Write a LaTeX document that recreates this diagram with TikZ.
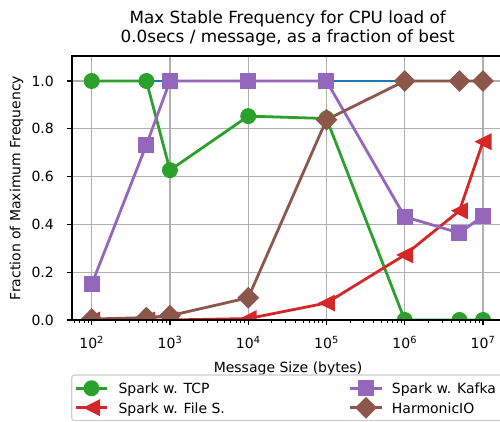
\documentclass[tikz,border=0pt]{standalone}
\usepackage{fontspec}
\setmainfont{DejaVu Sans}
\usetikzlibrary{shapes.geometric}
\definecolor{mblue}{HTML}{1F77B4}
\definecolor{mgreen}{HTML}{2CA02C}
\definecolor{mred}{HTML}{D62728}
\definecolor{mpurple}{HTML}{9467BD}
\definecolor{mbrown}{HTML}{8C564B}
\definecolor{gridgray}{HTML}{B0B0B0}
\definecolor{legedge}{HTML}{CCCCCC}
\begin{document}
\begin{tikzpicture}[
  dline/.style={line width=2.8pt, line join=round, color=#1},
  circmk/.style={circle, fill=#1, minimum size=16pt, inner sep=0pt},
  sqmk/.style={rectangle, fill=#1, minimum size=16pt, inner sep=0pt},
  diamk/.style={diamond, fill=#1, minimum width=22pt, minimum height=22pt, inner sep=0pt},
  trimk/.pic={\fill[mred] (-8.5pt,0pt) -- (8.5pt,8.5pt) -- (8.5pt,-8.5pt) -- cycle;},
  gridln/.style={line width=1.1pt, color=gridgray},
  spine/.style={line width=1.1pt, line cap=rect},
  majtick/.style={line width=1.1pt},
  mintick/.style={line width=0.85pt},
  lbl/.style={font=\fontsize{14}{16}\selectfont, inner sep=0pt},
  ttl/.style={font=\fontsize{16.8}{20}\selectfont, inner sep=0pt},
]
\path[use as bounding box, clip] (0,0) rectangle (500pt,422pt);

% ---------- data scope ----------
\begin{scope}[shift={(-64.82pt,102pt)}, x=78.26pt, y=239pt]
  % grid
  \foreach \d in {2,...,7} \draw[gridln] (\d,0) -- (\d,1.1046);
  \foreach \f in {0.2,0.4,0.6,0.8,1.0} \draw[gridln] (1.7483,\f) -- (7.3,\f);

  % coordinates
  \foreach \n/\x in {1/2,2/2.69897,3/3,4/4,5/5,6/6,7/6.69897,8/7} {
    \coordinate (x\n) at (\x,0);
  }
  % blue
  \coordinate (b1) at (2,1);   \coordinate (b2) at (7,1);
  % green
  \coordinate (g1) at (2,1.0);      \coordinate (g2) at (2.69897,1.0);
  \coordinate (g3) at (3,0.627);    \coordinate (g4) at (4,0.853);
  \coordinate (g5) at (5,0.843);    \coordinate (g6) at (6,0);
  \coordinate (g7) at (6.69897,0);  \coordinate (g8) at (7,0);
  % red
  \coordinate (r1) at (2,0.0);      \coordinate (r2) at (2.69897,0.0);
  \coordinate (r3) at (3,0.0);      \coordinate (r4) at (4,0.006);
  \coordinate (r5) at (5,0.071);    \coordinate (r6) at (6,0.272);
  \coordinate (r7) at (6.69897,0.457); \coordinate (r8) at (7,0.746);
  % purple
  \coordinate (p1) at (2,0.149);    \coordinate (p2) at (2.69897,0.733);
  \coordinate (p3) at (3,1.0);      \coordinate (p4) at (4,1.0);
  \coordinate (p5) at (5,1.0);      \coordinate (p6) at (6,0.432);
  \coordinate (p7) at (6.69897,0.364); \coordinate (p8) at (7,0.435);
  % brown
  \coordinate (h1) at (2,0.004);    \coordinate (h2) at (2.69897,0.01);
  \coordinate (h3) at (3,0.018);    \coordinate (h4) at (4,0.093);
  \coordinate (h5) at (5,0.838);    \coordinate (h6) at (6,1.0);
  \coordinate (h7) at (6.69897,1.0); \coordinate (h8) at (7,1.0);

  \begin{scope}
    \clip (1.7483,0) rectangle (7.3,1.1046);
    \draw[dline=mblue] (b1) -- (b2);

    \draw[dline=mgreen] (g1) -- (g2) -- (g3) -- (g4) -- (g5) -- (g6) -- (g7) -- (g8);
    \foreach \i in {1,...,8} \node[circmk=mgreen] (gm\i) at (g\i) {};

    \draw[dline=mred] (r1) -- (r2) -- (r3) -- (r4) -- (r5) -- (r6) -- (r7) -- (r8);
    \foreach \i in {1,...,8} \pic (rm\i) at (r\i) {trimk};

    \draw[dline=mpurple] (p1) -- (p2) -- (p3) -- (p4) -- (p5) -- (p6) -- (p7) -- (p8);
    \foreach \i in {1,...,8} \node[sqmk=mpurple] (pm\i) at (p\i) {};

    \draw[dline=mbrown] (h1) -- (h2) -- (h3) -- (h4) -- (h5) -- (h6) -- (h7) -- (h8);
    \foreach \i in {1,...,8} \node[diamk=mbrown] (hm\i) at (h\i) {};
  \end{scope}

  % spines
  \coordinate (c00) at (1.7483,0);
  \coordinate (c01) at (1.7483,1.1046);
  \coordinate (c10) at (7.3,0);
  \coordinate (c11) at (7.3,1.1046);
  \draw[spine] (c10) -- (c00) -- (c01) -- (c11);

  % x ticks
  \foreach \d in {2,...,7} \draw[majtick] (\d,0) -- ++(0,-5pt);
  \foreach \d in {2,...,6} \foreach \k in {2,...,9}
    \draw[mintick] ({\d+log10(\k)},0) -- ++(0,-2.8pt);
  \foreach \k in {6,...,9}
    \draw[mintick] ({1+log10(\k)},0) -- ++(0,-2.8pt);
  % y ticks
  \foreach \f in {0,0.2,0.4,0.6,0.8,1.0} \draw[majtick] (1.7483,\f) -- ++(-5pt,0);

  % x tick labels
  \foreach \d in {2,...,7}
    \node[lbl, anchor=base] (xl\d) at ([yshift=-29pt]\d,0) {10\textsuperscript{\d}};
\end{scope}

% y tick labels
\foreach \v/\y in {0.0/102,0.2/149.8,0.4/197.6,0.6/245.4,0.8/293.2,1.0/341}
  \node[lbl, anchor=east] (yl\v) at (54pt,\y pt) {\v};

% axis labels and title
\node[lbl, anchor=base] (xlab) at (288pt,49pt) {Message Size (bytes)};
\node[lbl, anchor=base, rotate=90] (ylab) at (20.5pt,234pt) {Fraction of Maximum Frequency};
\node[ttl, anchor=base] (t1) at (287.7pt,398.7pt) {Max Stable Frequency for CPU load of};
\node[ttl, anchor=base] (t2) at (287.7pt,379.3pt) {0.0secs / message, as a fraction of best};

% legend
\draw[legedge, line width=1.1pt, fill=white, rounded corners=3pt] (71.7pt,1.3pt) rectangle (506pt,47pt);
\coordinate (la1) at (76pt,33.7pt);  \coordinate (lb1) at (107pt,33.7pt);
\coordinate (la2) at (76pt,14.3pt);  \coordinate (lb2) at (107pt,14.3pt);
\coordinate (la3) at (350pt,33.7pt); \coordinate (lb3) at (382pt,33.7pt);
\coordinate (la4) at (350pt,14.3pt); \coordinate (lb4) at (382pt,14.3pt);
\draw[dline=mgreen] (la1) -- (lb1);
\node[circmk=mgreen] (lm1) at (91.5pt,33.7pt) {};
\draw[dline=mred] (la2) -- (lb2);
\pic (lm2) at (91.5pt,14.3pt) {trimk};
\draw[dline=mpurple] (la3) -- (lb3);
\node[sqmk=mpurple] (lm3) at (366pt,33.7pt) {};
\draw[dline=mbrown] (la4) -- (lb4);
\node[diamk=mbrown] (lm4) at (366pt,14.3pt) {};
\node[lbl, anchor=base west] (lt1) at (118.3pt,28pt) {Spark w. TCP};
\node[lbl, anchor=base west] (lt2) at (118.3pt,8.6pt) {Spark w. File S.};
\node[lbl, anchor=base west] (lt3) at (391.7pt,28pt) {Spark w. Kafka};
\node[lbl, anchor=base west] (lt4) at (391.7pt,8.6pt) {HarmonicIO};
\end{tikzpicture}
\end{document}
